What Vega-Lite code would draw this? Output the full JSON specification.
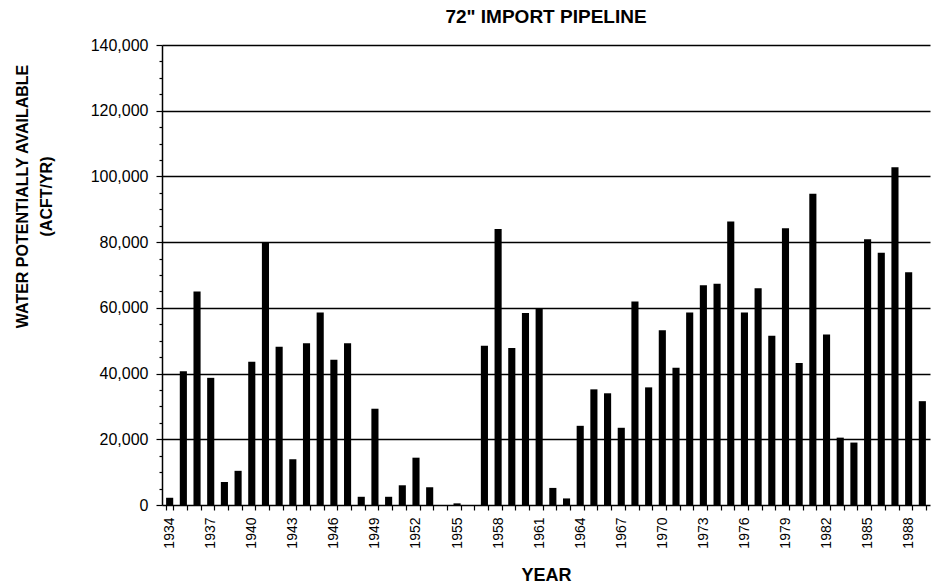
{
  "$schema": "https://vega.github.io/schema/vega-lite/v6.json",
  "autosize": {"type": "none"},
  "width": 768,
  "height": 460,
  "padding": {"left": 162, "top": 45, "right": 1, "bottom": 79},
  "background": "white",
  "title": {
    "text": "72\" IMPORT PIPELINE",
    "font": "Liberation Sans",
    "fontSize": 19,
    "fontWeight": "bold",
    "color": "black",
    "anchor": "middle",
    "offset": 10
  },
  "config": {
    "view": {"stroke": null},
    "axis": {"labelFont": "Liberation Sans", "titleFont": "Liberation Sans", "labelColor": "black", "titleColor": "black", "domainColor": "black", "tickColor": "black", "gridColor": "black"}
  },
  "data": {
    "values": [
      {"year": 1934, "value": 2200},
      {"year": 1935, "value": 40700},
      {"year": 1936, "value": 65000},
      {"year": 1937, "value": 38700},
      {"year": 1938, "value": 7000},
      {"year": 1939, "value": 10400},
      {"year": 1940, "value": 43600},
      {"year": 1941, "value": 80000},
      {"year": 1942, "value": 48200},
      {"year": 1943, "value": 13900},
      {"year": 1944, "value": 49200},
      {"year": 1945, "value": 58600},
      {"year": 1946, "value": 44200},
      {"year": 1947, "value": 49200},
      {"year": 1948, "value": 2500},
      {"year": 1949, "value": 29300},
      {"year": 1950, "value": 2500},
      {"year": 1951, "value": 6000},
      {"year": 1952, "value": 14400},
      {"year": 1953, "value": 5400},
      {"year": 1954, "value": 0},
      {"year": 1955, "value": 500},
      {"year": 1956, "value": 0},
      {"year": 1957, "value": 48500},
      {"year": 1958, "value": 84000},
      {"year": 1959, "value": 47800},
      {"year": 1960, "value": 58400},
      {"year": 1961, "value": 59900},
      {"year": 1962, "value": 5200},
      {"year": 1963, "value": 2000},
      {"year": 1964, "value": 24100},
      {"year": 1965, "value": 35200},
      {"year": 1966, "value": 34000},
      {"year": 1967, "value": 23500},
      {"year": 1968, "value": 61900},
      {"year": 1969, "value": 35800},
      {"year": 1970, "value": 53200},
      {"year": 1971, "value": 41800},
      {"year": 1972, "value": 58600},
      {"year": 1973, "value": 66900},
      {"year": 1974, "value": 67300},
      {"year": 1975, "value": 86300},
      {"year": 1976, "value": 58600},
      {"year": 1977, "value": 66000},
      {"year": 1978, "value": 51500},
      {"year": 1979, "value": 84200},
      {"year": 1980, "value": 43200},
      {"year": 1981, "value": 94700},
      {"year": 1982, "value": 51900},
      {"year": 1983, "value": 20500},
      {"year": 1984, "value": 19000},
      {"year": 1985, "value": 80900},
      {"year": 1986, "value": 76800},
      {"year": 1987, "value": 102800},
      {"year": 1988, "value": 70800},
      {"year": 1989, "value": 31600}
    ]
  },
  "mark": {"type": "bar", "color": "black"},
  "encoding": {
    "x": {
      "field": "year",
      "type": "ordinal",
      "scale": {"paddingInner": 0.48, "paddingOuter": 0.3},
      "axis": {
        "title": "YEAR",
        "titleFontSize": 18,
        "titleFontWeight": "bold",
        "titlePadding": 18,
        "labelAngle": -90,
        "labelFontSize": 14,
        "labelPadding": 7,
        "labelExpr": "(datum.value - 1934) % 3 == 0 ? datum.label : ''",
        "tickBand": "extent",
        "tickSize": 5,
        "tickWidth": 1.2,
        "domainWidth": 1.5,
        "grid": false
      }
    },
    "y": {
      "field": "value",
      "type": "quantitative",
      "scale": {"domain": [0, 140000], "nice": false},
      "axis": {
        "title": ["WATER POTENTIALLY AVAILABLE", "(ACFT/YR)"],
        "titleFontSize": 16,
        "titleFontWeight": "bold",
        "titleLineHeight": 24,
        "titlePadding": 36,
        "titleY": 151,
        "values": [0,5000,10000,15000,20000,25000,30000,35000,40000,45000,50000,55000,60000,65000,70000,75000,80000,85000,90000,95000,100000,105000,110000,115000,120000,125000,130000,135000,140000],
        "labelExpr": "datum.value % 20000 == 0 ? datum.label : ''",
        "format": ",d",
        "labelFontSize": 16,
        "labelPadding": 8,
        "tickSize": {"condition": {"test": "datum.value % 20000 == 0", "value": 6}, "value": 3},
        "tickWidth": 1.2,
        "domainWidth": 1.5,
        "grid": true,
        "gridWidth": 1.5,
        "gridOpacity": {"condition": {"test": "datum.value % 20000 == 0 && datum.value > 0", "value": 1}, "value": 0}
      }
    }
  }
}
